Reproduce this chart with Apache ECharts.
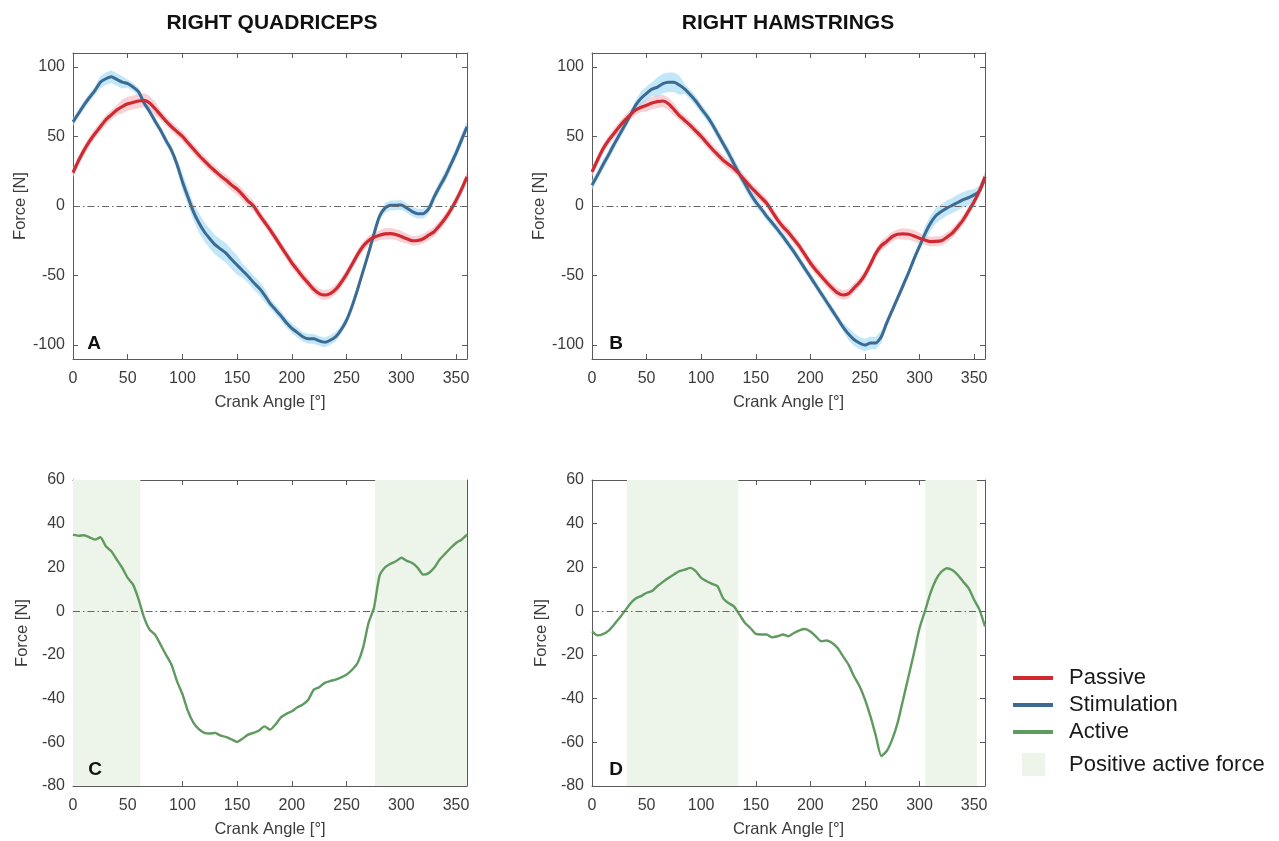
<!DOCTYPE html>
<html>
<head>
<meta charset="utf-8">
<script src="https://cdn.jsdelivr.net/npm/echarts@6/dist/echarts.min.js"></script>
<style>
  html, body { margin: 0; padding: 0; background: #ffffff; }
  #chart { width: 1279px; height: 841px; }
</style>
</head>
<body>
<div id="chart"></div>
<script>
// Crank angle samples (degrees)
const angles = [0,5,10,15,20,25,30,35,40,45,50,55,60,65,70,75,80,85,90,95,100,105,110,115,120,125,130,135,140,145,150,155,160,165,170,175,180,185,190,195,200,205,210,215,220,225,230,235,240,245,250,255,260,265,270,275,280,285,290,295,300,305,310,315,320,325,330,335,340,345,350,355,360];

// Right quadriceps: mean force [N] and spread
const quadStim = [60.5,66.5,72.5,78,83,89,91.5,93,91,89,88,85.5,82,74,68,61,54.5,47,40,30,17.5,6.5,-4,-12,-18.5,-23.5,-28,-31,-34,-38.5,-42.5,-46.5,-50.5,-55,-59,-64,-70,-74.5,-79,-84,-88,-91,-94,-95.5,-95.5,-97,-98,-96.5,-94,-89,-82,-72,-60,-47,-34,-20,-7.5,-1.5,0.5,0.5,0.8,-1.5,-4,-5.5,-5.5,-2,6.5,14,21,29.5,38,47.5,57];
const quadStimSd = [3,3,3,3,3,4.5,4.5,4.5,4.5,4.5,3,3,3,3,3,3,3,3,3,4,6,6,6,7,7,7,7,7,7,7,7,5,5,5,5,5,3.5,3.5,3.5,3.5,3.5,3.5,3.5,3.5,3.5,3.5,3.5,3.5,3.5,3,3,3,3,3,3,3,3,3.5,3.5,3.5,3.5,3.5,3.5,3.5,3.5,3.5,3.5,4,4,4,4,4,4];
const quadPas = [24,32.5,40,46.5,52,57,62,65.5,69,71.5,73.5,74.5,75.5,76,74,70,65.5,61,57,53.5,50,45.5,41,36.5,32.5,28.5,25,21.5,18.5,15,12,8,3.5,0,-6,-11.5,-17,-23,-29,-35,-41,-46,-51,-55.5,-60,-63,-64,-63,-60,-55,-49,-42,-35,-29,-25,-22.5,-21,-20,-19.8,-20.5,-22,-23.5,-25,-24.8,-23.5,-21,-18.5,-14,-9,-3,4,12,21];
const quadPasSd = [3.5,3.5,3.5,3.5,3.5,3.5,3.5,3.5,3.5,5,5,5,5,5,5,5,3.5,3.5,3.5,3.5,3.5,3.5,3.5,3.5,3.5,3.5,3.5,3.5,4,4,4,4,4,3.5,3.5,3.5,3.5,3.5,3.5,3.5,3.5,3.5,3.5,3.5,3.5,3.5,3.5,3.5,3.5,3.5,3.5,3.5,3.5,3.5,3.5,3.5,3.5,4,4,4,4,3.5,3.5,3.5,3.5,3.5,3.5,3.5,3.5,3.5,3.5,3.5,3.5];

// Right hamstrings: mean force [N] and spread
const hamStim = [15,22,29.5,36.5,44,51,58,65,72.5,77.5,81,84,85.5,88,89,89,87,84,80,75.5,70,65,59,52,45,38,30.5,23,16,9,3,-2,-7.5,-12,-17,-22,-27.5,-33,-39,-45,-51,-57,-63,-69,-75,-81,-87,-92,-96,-98.5,-100,-98.5,-98.5,-94,-84,-75,-66,-57,-48,-38,-29,-20,-12.5,-7,-4,-1.5,0.5,2.5,4.5,6,8,11,20];
const hamStimSd = [3.5,3.5,3.5,3.5,3.5,3.5,3.5,3.5,3.5,5,5,5,7,7,7,7,7,3.5,3.5,3.5,3.5,3.5,3.5,3.5,3.5,4,4,4,4,4,4,3,3,3,3,3,3,3,3,3,3,3,3,3,3,3,3,4.5,4.5,4.5,4.5,4.5,4.5,4.5,3,3,3,3,3,3,3,5.5,5.5,5.5,5.5,5.5,5.5,5.5,5.5,5.5,4,4,4];
const hamPas = [24.5,33,41,47,52,57,61.5,65.5,69,71,72.5,74,75,75.5,73.5,69.5,65,61.5,58,54,50,45.5,41,37,33,30,27,23,18.5,14,10,6,2,-4,-10,-15,-19,-24,-29,-35,-41,-46,-50.5,-55,-59,-62.5,-64,-63,-59,-55,-49.5,-42,-34,-28.5,-25.5,-22,-20.3,-20,-20.3,-21.5,-23.2,-24.5,-25.6,-25.5,-25,-22.5,-19.5,-15,-10,-3.5,3,11,21];
const hamPasSd = [3.5,3.5,3.5,3.5,3.5,3.5,3.5,3.5,3.5,3.5,4.5,4.5,4.5,4.5,4.5,4.5,3.5,3.5,3.5,3.5,3.5,3.5,3.5,3.5,3.5,3.5,3.5,3.5,3.5,3.5,3.5,3.5,3.5,3.5,3.5,3.5,3.5,3.5,3.5,3.5,3.5,3.5,3.5,3.5,3.5,3.5,3.5,3.5,3.5,3.5,3.5,3.5,3.5,3.5,3.5,3.5,3.5,4,4,4,4,3.5,3.5,3.5,3.5,3.5,3.5,3.5,3.5,3.5,3.5,3.5,3.5];

// Active force (stimulation minus passive) [N]
const quadActive = [35,34.5,34.7,33.8,32.7,33.8,29.7,27.4,23.6,19.8,15.2,12,5.3,-3,-8.5,-10.8,-15.3,-20,-24.5,-32,-38,-45.7,-51,-54,-55.7,-56,-55.7,-57,-57.6,-58.7,-59.8,-58.3,-56.5,-55.7,-54.6,-52.7,-54.2,-51.9,-48.6,-47,-45.8,-44,-42.7,-40.5,-35.9,-34.8,-32.8,-32,-31.3,-30.3,-29,-26.8,-23.7,-16.8,-5.4,1.5,16,20,21.6,22.8,24.4,23,22,19.8,16.7,17.4,19.8,23.6,26.2,28.9,31.2,32.7,35];
const hamActive = [-9.3,-11.1,-10.5,-9,-6.3,-3.2,0,3.4,5.8,6.9,8.4,9.2,11.5,13.4,15.2,16.8,18.3,19,19.8,18.3,15.2,13.7,12.5,11.4,6,3.7,2.2,-1.5,-5.3,-7.7,-10.4,-10.7,-10.7,-12,-11.5,-10.7,-11.5,-10,-8.8,-8.2,-9.3,-11.5,-13.8,-13.4,-14.6,-16.9,-20.7,-24.5,-29.8,-34.3,-40.4,-48,-57,-66.3,-64,-58.7,-51,-40.4,-29.8,-19,-7.8,0,8.2,14.3,18,19.6,18.8,16.6,13.5,10.5,5.2,0.6,-7];

// Crank-angle intervals with positive active force [start, end]
const quadPositive = [[0, 61.5], [276, 360]];
const hamPositive = [[32, 134], [305.5, 352.5]];

// Axis ticks
const xTicks = [0, 50, 100, 150, 200, 250, 300, 350];
const topYTicks = [-100, -50, 0, 50, 100];
const bottomYTicks = [-80, -60, -40, -20, 0, 20, 40, 60];

const C_PAS = '#cf2a30';
const C_STIM = '#3d6a92';
const C_ACT = '#5f9a5f';
const C_PAS_BAND = 'rgba(245,188,195,0.7)';
const C_STIM_BAND = 'rgba(160,218,244,0.65)';
const C_SHADE = '#edf4ea';
const AXIS_COLOR = '#5a5a5a';
const TEXT_COLOR = '#3c3c3c';
const FONT = '"Liberation Sans", Arial, sans-serif';

const grids = [
  { left: 73, top: 53, width: 394, height: 306 },
  { left: 592, top: 53, width: 393, height: 306 },
  { left: 73, top: 480, width: 394, height: 306 },
  { left: 592, top: 480, width: 393, height: 306 }
];

const xAxes = [];
const yAxes = [];
grids.forEach((g, i) => {
  const upper = i < 2;
  const tickStyle = { show: true, inside: true, length: 5, lineStyle: { color: AXIS_COLOR } };
  xAxes.push({
    type: 'value', gridIndex: i, position: 'bottom', min: 0, max: 360, interval: 50,
    name: 'Crank Angle [°]', nameLocation: 'middle', nameGap: 35,
    nameTextStyle: { fontFamily: FONT, fontSize: 16.5, color: TEXT_COLOR },
    axisLine: { show: true, onZero: false, lineStyle: { color: AXIS_COLOR, width: 1 } },
    axisTick: Object.assign({ customValues: xTicks }, tickStyle),
    axisLabel: { show: true, margin: 12, fontFamily: FONT, fontSize: 16, color: TEXT_COLOR, customValues: xTicks },
    splitLine: { show: false }
  });
  xAxes.push({
    type: 'value', gridIndex: i, position: 'top', min: 0, max: 360, interval: 50,
    axisLine: { show: true, onZero: false, lineStyle: { color: AXIS_COLOR, width: 1 } },
    axisTick: Object.assign({ customValues: xTicks }, tickStyle),
    axisLabel: { show: false },
    splitLine: { show: false }
  });
  const yTicks = upper ? topYTicks : bottomYTicks;
  const yMin = upper ? -110 : -80;
  const yMax = upper ? 110 : 60;
  yAxes.push({
    type: 'value', gridIndex: i, position: 'left', min: yMin, max: yMax,
    name: 'Force [N]', nameLocation: 'middle', nameGap: 42,
    nameTextStyle: { fontFamily: FONT, fontSize: 16.5, color: TEXT_COLOR },
    axisLine: { show: true, onZero: false, lineStyle: { color: AXIS_COLOR, width: 1 } },
    axisTick: Object.assign({ customValues: yTicks }, tickStyle),
    axisLabel: { show: true, margin: 8, fontFamily: FONT, fontSize: 16, color: TEXT_COLOR, customValues: yTicks },
    splitLine: { show: false }
  });
  yAxes.push({
    type: 'value', gridIndex: i, position: 'right', min: yMin, max: yMax,
    axisLine: { show: true, onZero: false, lineStyle: { color: AXIS_COLOR, width: 1 } },
    axisTick: Object.assign({ customValues: yTicks }, tickStyle),
    axisLabel: { show: false },
    splitLine: { show: false }
  });
});

const pairs = vals => angles.map((a, i) => [a, vals[i]]);

const zeroLine = {
  silent: true, symbol: ['none', 'none'], label: { show: false },
  lineStyle: { color: '#666666', width: 1, type: [7, 3, 1.5, 3] },
  emphasis: { disabled: true },
  data: [{ yAxis: 0 }]
};

// shaded spread band: one polygon along the upper edge and back along the lower edge
function band(panel, key, mean, sd, color) {
  const rows = angles.map((a, i) => [a, mean[i] - sd[i], mean[i] + sd[i]]);
  return {
    type: 'custom', name: key, xAxisIndex: panel * 2, yAxisIndex: panel * 2,
    silent: true, z: 1, data: rows, encode: { x: 0, y: [1, 2] },
    renderItem: (params, api) => {
      if (params.dataIndex !== 0) return null;
      const pts = [];
      for (let i = 0; i < rows.length; i++) pts.push(api.coord([rows[i][0], rows[i][2]]));
      for (let i = rows.length - 1; i >= 0; i--) pts.push(api.coord([rows[i][0], rows[i][1]]));
      return { type: 'polygon', shape: { points: pts }, style: { fill: color } };
    }
  };
}

function meanLine(panel, name, vals, color, width, withZero) {
  const s = {
    type: 'line', name: name, xAxisIndex: panel * 2, yAxisIndex: panel * 2,
    data: pairs(vals), showSymbol: false, symbol: 'none', z: 3, smooth: 0.2,
    itemStyle: { color: color },
    lineStyle: { color: color, width: width }
  };
  if (withZero) s.markLine = zeroLine;
  return s;
}

function shade(panel, spans) {
  return {
    type: 'line', name: 'Positive active force', xAxisIndex: panel * 2, yAxisIndex: panel * 2,
    data: [], z: 0, itemStyle: { color: C_SHADE },
    markArea: {
      silent: true, itemStyle: { color: C_SHADE },
      data: spans.map(s => [{ xAxis: s[0] }, { xAxis: s[1] }])
    },
    markLine: zeroLine
  };
}

const series = [
  band(0, 'quadPasBand', quadPas, quadPasSd, C_PAS_BAND),
  band(0, 'quadStimBand', quadStim, quadStimSd, C_STIM_BAND),
  meanLine(0, 'Stimulation', quadStim, C_STIM, 3, false),
  meanLine(0, 'Passive', quadPas, C_PAS, 3.2, true),
  band(1, 'hamPasBand', hamPas, hamPasSd, C_PAS_BAND),
  band(1, 'hamStimBand', hamStim, hamStimSd, C_STIM_BAND),
  meanLine(1, 'Stimulation', hamStim, C_STIM, 3, false),
  meanLine(1, 'Passive', hamPas, C_PAS, 3.2, true),
  shade(2, quadPositive),
  meanLine(2, 'Active', quadActive, C_ACT, 2.4, false),
  shade(3, hamPositive),
  meanLine(3, 'Active', hamActive, C_ACT, 2.4, false)
];

const centeredText = (txt, x, y, size) => ({
  type: 'text', x: x, y: y, z: 10,
  style: { text: txt, fontFamily: FONT, fontWeight: 'bold', fontSize: size, fill: '#111111',
           textAlign: 'center', textVerticalAlign: 'middle' }
});

const option = {
  animation: false,
  backgroundColor: '#ffffff',
  grid: grids.map(g => Object.assign({ containLabel: false }, g)),
  xAxis: xAxes,
  yAxis: yAxes,
  series: series,
  legend: [
    {
      orient: 'vertical', left: 1013, top: 667, itemGap: 5, padding: 0, selectedMode: false,
      itemWidth: 40, itemHeight: 4, icon: 'rect',
      textStyle: { fontFamily: FONT, fontSize: 22, color: '#1a1a1a', lineHeight: 22, padding: [0, 0, 0, 11] },
      data: [
        { name: 'Passive', itemStyle: { color: C_PAS } },
        { name: 'Stimulation', itemStyle: { color: C_STIM } },
        { name: 'Active', itemStyle: { color: C_ACT } }
      ]
    },
    {
      orient: 'vertical', left: 1022, top: 753, padding: 0, selectedMode: false,
      itemWidth: 23, itemHeight: 23, icon: 'rect',
      textStyle: { fontFamily: FONT, fontSize: 22, color: '#1a1a1a', lineHeight: 23, padding: [0, 0, 0, 19] },
      data: [{ name: 'Positive active force', itemStyle: { color: C_SHADE } }]
    }
  ],
  graphic: [
    centeredText('RIGHT QUADRICEPS', 272, 23, 21),
    centeredText('RIGHT HAMSTRINGS', 788, 23, 21),
    centeredText('A', 94, 344, 19),
    centeredText('B', 616, 344, 19),
    centeredText('C', 95, 770, 19),
    centeredText('D', 616, 770, 19)
  ]
};

const chart = echarts.init(document.getElementById('chart'), null, { renderer: 'canvas' });
chart.setOption(option);
</script>
</body>
</html>
